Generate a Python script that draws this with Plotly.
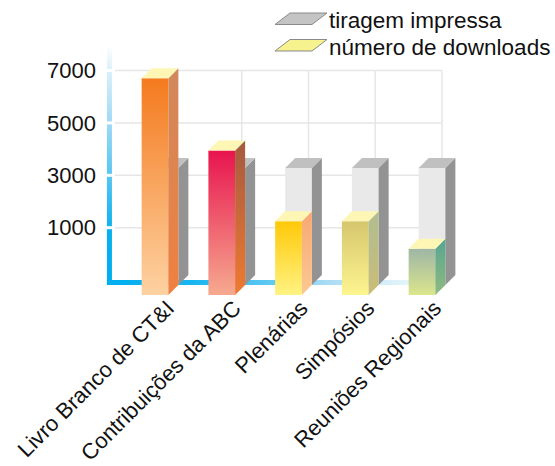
import plotly.graph_objects as go

# ---------------- data ----------------
categories = ["Livro Branco de CT&I", "Contribuições da ABC", "Plenárias", "Simpósios", "Reuniões Regionais"]
tiragem = [2900, 2900, 2900, 2900, 2900]        # tiragem impressa
downloads = [6700, 3950, 1250, 1250, 200]       # número de downloads
y_ticks = [1000, 3000, 5000, 7000]
legend_labels = ["tiragem impressa", "número de downloads"]

# ---------------- styles ----------------
front_grad = [("#fdd2a2", "#f47a1e"), ("#f6aa90", "#e8144e"), ("#fff382", "#ffc808"),
              ("#fdf590", "#d6c66e"), ("#dbe68c", "#9eb6a6")]
side_grad = [("#f08040", "#d0885c"), ("#f07a30", "#a45a40"), ("#fcc892", "#f8a874"),
             ("#cabd76", "#b0bd92"), ("#8eba80", "#56a690")]
top_color = "#fdf6b4"
gray_front, gray_side, gray_top = "#e9e9e9", "#939393", "#c0c0c0"
grid_color = "#e6e6e6"
FONT = "Liberation Sans, Arial, sans-serif"

W, H = 555, 466
L, R, T, B = 100, 85, 30, 166
X0PX, XSTEP = 155, 66.75
Y7000PX, PXU = 70.5, 26.2 / 1000
x_range = [(L - X0PX) / XSTEP, (W - R - X0PX) / XSTEP]
y_range = [7000 - (H - B - Y7000PX) / PXU, 7000 + (Y7000PX - T) / PXU]

HALF = 0.2      # half width of a bar face (x units)
DX = 0.15       # depth offset x
DY = 382        # depth offset y
FLOOR = -1570   # front floor
LABEL_SHIFT = 0.19
GRID_SHIFT = 0.3

fig = go.Figure()


def poly(xs, ys, color=None, grad=None, orient="vertical"):
    tr = go.Scatter(x=list(xs) + [xs[0]], y=list(ys) + [ys[0]], mode="lines", fill="toself",
                    line=dict(width=0), hoverinfo="skip", showlegend=False)
    if grad is not None:
        tr.fillgradient = dict(type=orient, colorscale=grad)
    else:
        tr.fillcolor = color
    fig.add_trace(tr)


def line(xs, ys, color, width):
    fig.add_trace(go.Scatter(x=xs, y=ys, mode="lines", line=dict(color=color, width=width),
                             hoverinfo="skip", showlegend=False))


# ---------------- back wall grid ----------------
wall_left, wall_right = -0.6, len(categories) - 0.7
wall_floor = -1000
for v in y_ticks:
    line([wall_left, wall_right], [v, v], grid_color, 1.5)
for k in range(len(categories)):
    xv = k + GRID_SHIFT
    line([xv, xv], [wall_floor, y_ticks[-1]], grid_color, 1.5)

# blue axes (gradient)
poly([-0.72, -0.645, -0.645, -0.72], [-1190, -1190, 7970, 7970],
     grad=[[0, "#00aeef"], [0.22, "#08b0ef"], [0.45, "#55c5f1"], [0.675, "#9ed9f5"],
           [0.9, "#dcf1fb"], [1, "#ffffff"]])
poly([-0.72, 4.35, 4.35, -0.72], [-1190, -1190, -1000, -1000],
     grad=[[0, "#00aeef"], [0.25, "#18b6f0"], [0.46, "#58c6f0"], [0.65, "#a8dcf4"],
           [0.85, "#ddf1fa"], [1, "#f4fbfe"]], orient="horizontal")
for v in y_ticks:
    line([-0.75, -0.62], [v, v], "#ffffff", 3)

# ---------------- gray bars (tiragem) ----------------
for i, v in enumerate(tiragem):
    xl, xr = i - HALF + DX, i + HALF + DX
    b0, t0 = FLOOR + DY, v + DY
    poly([xl, xr, xr, xl], [b0, b0, t0, t0], color=gray_front)
    poly([xr, xr + DX, xr + DX, xr], [b0, b0 + DY, t0 + DY, t0], color=gray_side)
    poly([xl, xr, xr + DX, xl + DX], [t0, t0, t0 + DY, t0 + DY], color=gray_top)

# ---------------- download bars ----------------
for i, v in enumerate(downloads):
    xl, xr = i - HALF, i + HALF
    fb, ft = front_grad[i]
    sb, st = side_grad[i]
    poly([xl, xr, xr, xl], [FLOOR, FLOOR, v, v], grad=[[0, fb], [1, ft]])
    poly([xr, xr + DX, xr + DX, xr], [FLOOR, FLOOR + DY, v + DY, v], grad=[[0, sb], [1, st]])
    poly([xl, xr, xr + DX, xl + DX], [v, v, v + DY, v + DY], color=top_color)

# ---------------- legend (drawn) ----------------
def pxx(p):
    return (p - L) / (W - L - R)


def pxy(p):
    return (H - B - p) / (H - T - B)


legend_fill = ["#c4c4c4", "#f6f28e"]
legend_rows = [13, 39.5]
shapes = []
annotations = []
for lab, fc, ty in zip(legend_labels, legend_fill, legend_rows):
    by = ty + 11.5
    path = (f"M {pxx(275)},{pxy(by)} L {pxx(312)},{pxy(by)} L {pxx(327)},{pxy(ty)} "
            f"L {pxx(290)},{pxy(ty)} Z")
    shapes.append(dict(type="path", path=path, xref="paper", yref="paper",
                       fillcolor=fc, line=dict(color="#8a8a8a", width=1)))
    annotations.append(dict(text=lab, x=pxx(327), y=pxy(ty + 7.5), xref="paper", yref="paper",
                            xanchor="left", yanchor="middle", showarrow=False,
                            font=dict(size=22.5, family=FONT, color="#111111")))

fig.update_layout(
    width=W, height=H, margin=dict(l=L, r=R, t=T, b=B, autoexpand=False),
    paper_bgcolor="white", plot_bgcolor="white",
    showlegend=False, shapes=shapes, annotations=annotations,
    xaxis=dict(range=x_range, tickvals=[i + LABEL_SHIFT for i in range(len(categories))],
               ticktext=categories, tickangle=-45, showgrid=False, zeroline=False,
               showline=False, ticks="", automargin=False, ticklabelstandoff=-10,
               tickfont=dict(size=22, family=FONT, color="#111111")),
    yaxis=dict(range=y_range, tickvals=y_ticks, ticktext=[str(v) for v in y_ticks],
               showgrid=False, zeroline=False, showline=False, ticks="", automargin=False,
               ticklabelstandoff=3, tickfont=dict(size=22, family=FONT, color="#111111")),
)

fig.write_html("out.html")
